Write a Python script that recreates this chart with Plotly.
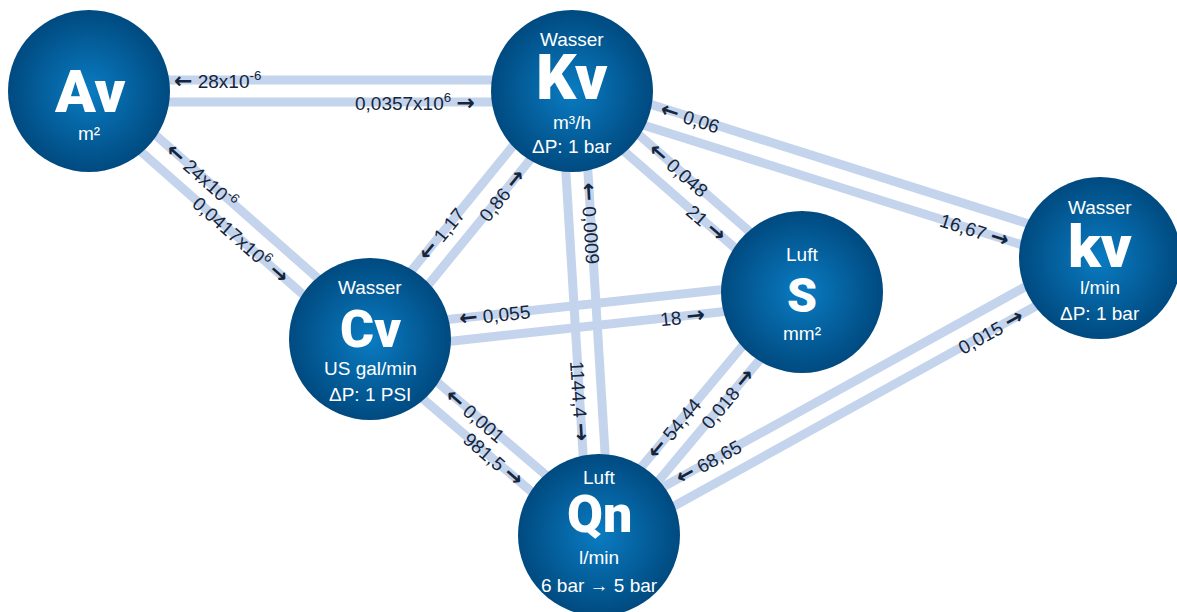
import numpy as np
import plotly.graph_objects as go

# Knoten (Einheiten) und ihre Beschriftungen
nodes = ["Av", "Kv", "Cv", "S", "kv", "Qn"]
node_medium = ["", "Wasser", "Wasser", "Luft", "Wasser", "Luft"]
node_unit = ["m²", "m³/h", "US gal/min", "mm²", "l/min", "l/min"]
node_cond = ["", "ΔP: 1 bar", "ΔP: 1 PSI", "", "ΔP: 1 bar", "6 bar → 5 bar"]

# Umrechnungsfaktoren zwischen den Knoten (a <-> b)
edge_a = ["Av", "Av", "Cv", "Kv", "Kv", "Kv", "Cv", "Cv", "Qn", "Qn"]
edge_b = ["Kv", "Cv", "Kv", "Qn", "S", "kv", "S", "Qn", "S", "kv"]
factor_to_a = ["28x10<sup>-6</sup>", "24x10<sup>-6</sup>", "1,17", "0,0009", "0,048",
               "0,06", "0,055", "0,001", "54,44", "68,65"]
factor_to_b = ["0,0357x10<sup>6</sup>", "0,0417x10<sup>6</sup>", "0,86", "1144,4", "21",
               "16,67", "18", "981,5", "0,018", "0,015"]

# Layout (Pixelkoordinaten)
node_x = [89, 572, 370, 802, 1100, 599]
node_y = [91, 91, 339, 292, 258, 535]
big_size = [60, 63, 52, 48, 60, 52]
big_dy = [0, -14, -10, 3, -12, -21]
medium_dy = [0, -52, -52, -38, -51, -58]
unit_dy = [42, 31, 29, 41, 29, 22]
cond_dy = [0, 55, 55, 0, 55, 50]
pos_a = [0.267, 0.375, 0.396, 0.30, 0.433, 0.219, 0.292, 0.431, 0.412, 0.229]
pos_b = [0.675, 0.566, 0.611, 0.696, 0.615, 0.768, 0.72, 0.569, 0.59, 0.77]

GAP = 11
LINE_COLOR = "#c4d4ec"
TEXT_COLOR = "#15263c"
FONT = "Liberation Sans, Arial, sans-serif"
ARROW = "<span style='font-family:DejaVu Sans;font-weight:bold;font-size:22px'>{}</span>"

idx = {n: i for i, n in enumerate(nodes)}
fig = go.Figure()
annotations = []

for a, b, la, lb, ta, tb in zip(edge_a, edge_b, factor_to_a, factor_to_b, pos_a, pos_b):
    x0, y0 = node_x[idx[a]], node_y[idx[a]]
    x1, y1 = node_x[idx[b]], node_y[idx[b]]
    dx, dy = x1 - x0, y1 - y0
    L = np.hypot(dx, dy)
    nx, ny = -dy / L, dx / L
    angle = np.degrees(np.arctan2(dy, dx))
    for s in (-1, 1):
        fig.add_trace(go.Scatter(
            x=[x0 + s * GAP * nx, x1 + s * GAP * nx],
            y=[y0 + s * GAP * ny, y1 + s * GAP * ny],
            mode="lines", line=dict(color=LINE_COLOR, width=9),
            hoverinfo="skip", showlegend=False))
    for s, t, txt in ((-1, ta, ARROW.format("←") + " " + la),
                      (1, tb, lb + " " + ARROW.format("→"))):
        annotations.append(dict(
            x=x0 + t * dx + s * GAP * nx, y=y0 + t * dy + s * GAP * ny,
            text=txt, showarrow=False, textangle=angle,
            xanchor="center", yanchor="middle",
            font=dict(family=FONT, size=19, color=TEXT_COLOR)))

fig.add_trace(go.Scatter(
    x=node_x, y=node_y, mode="markers", cliponaxis=False,
    marker=dict(size=162, color="#004a80", line=dict(width=0),
                gradient=dict(type="radial", color="#0a7cc2")),
    hoverinfo="skip", showlegend=False))

for i, n in enumerate(nodes):
    cx, cy = node_x[i], node_y[i]
    annotations.append(dict(x=cx, y=cy + big_dy[i], text=n, showarrow=False,
                            font=dict(family="Roboto", size=big_size[i], color="white", weight=900)))
    for txt, off in ((node_medium[i], medium_dy[i]), (node_unit[i], unit_dy[i]),
                     (node_cond[i], cond_dy[i])):
        if txt:
            annotations.append(dict(x=cx, y=cy + off, text=txt, showarrow=False,
                                    font=dict(family=FONT, size=19, color="white")))

fig.update_layout(
    width=1177, height=612,
    margin=dict(l=0, r=0, t=0, b=0),
    paper_bgcolor="white", plot_bgcolor="white",
    xaxis=dict(range=[0, 1177], visible=False, fixedrange=True),
    yaxis=dict(range=[612, 0], visible=False, fixedrange=True),
    annotations=annotations,
    showlegend=False)

fig.write_html("out.html", config={"displayModeBar": False},
               post_script="document.body.style.margin='0';")
